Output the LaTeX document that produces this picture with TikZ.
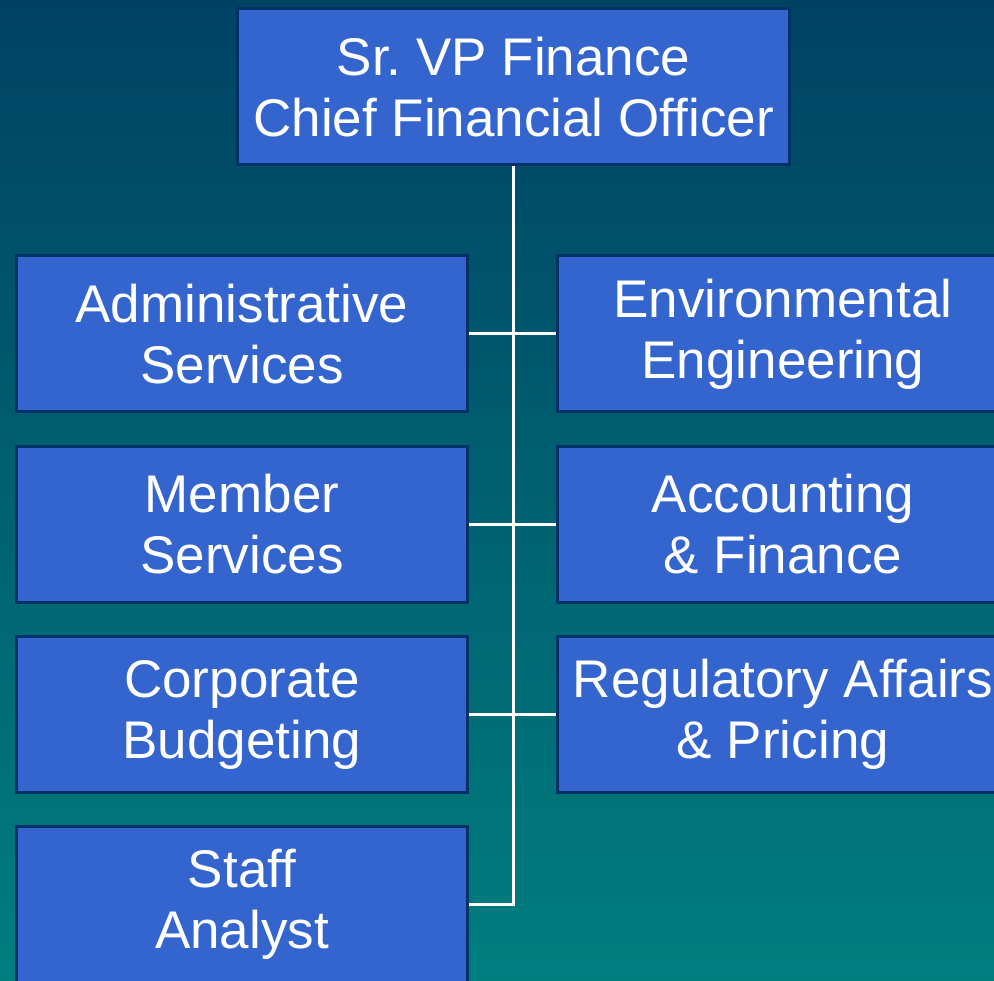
\documentclass[tikz,border=0pt]{standalone}
\usepackage{fontspec}
\setmainfont{Liberation Sans}
\frenchspacing
\definecolor{bgtop}{RGB}{0,66,100}
\definecolor{bgbot}{RGB}{0,126,126}
\definecolor{boxfill}{RGB}{52,101,206}
\definecolor{boxedge}{RGB}{0,50,104}
\begin{document}
\begin{tikzpicture}[x=1pt,y=1pt,
  unit/.style={draw=boxedge, line width=3pt, fill=boxfill, text=white,
    rectangle, inner sep=0pt, minimum width=451pt, minimum height=156pt,
    align=center, font=\fontsize{53}{61}\selectfont},
  link/.style={draw=white, line width=3pt}]
  \useasboundingbox (0,0) rectangle (994,-981);
  \clip (0,0) rectangle (994,-981);
  % background wash
  \shade[top color=bgtop, bottom color=bgbot] (0,0) rectangle (994,-981);

  % head of the department
  \node[unit, minimum width=552pt] (cfo) at (513.5,-87) {Sr.\ VP Finance\\Chief Financial Officer};

  % left column
  \node[unit] (admin)  at (242,-334)   {Administrative\\Services};
  \node[unit] (member) at (242,-524.5) {Member\\Services};
  \node[unit] (budget) at (242,-714.5) {Corporate\\Budgeting};
  \node[unit] (staff)  at (242,-904.5) {Staff\\Analyst};

  % right column
  \node[unit] (env)  at (783,-334)   {Environmental\\Engineering};
  \node[unit] (acct) at (783,-524.5) {Accounting\\\&\ Finance};
  \node[unit] (reg)  at (783,-714.5) {Regulatory Affairs\\\&\ Pricing};

  % reporting lines
  \coordinate (trunkend) at (cfo.south |- staff.east);
  \draw[link] (cfo.south) -- (trunkend);
  \draw[link] (admin.east)  -- (env.west);
  \draw[link] (member.east) -- (acct.west);
  \draw[link] (budget.east) -- (reg.west);
  \draw[link] (staff.east)  -- ([xshift=1.5pt]trunkend);
\end{tikzpicture}
\end{document}
